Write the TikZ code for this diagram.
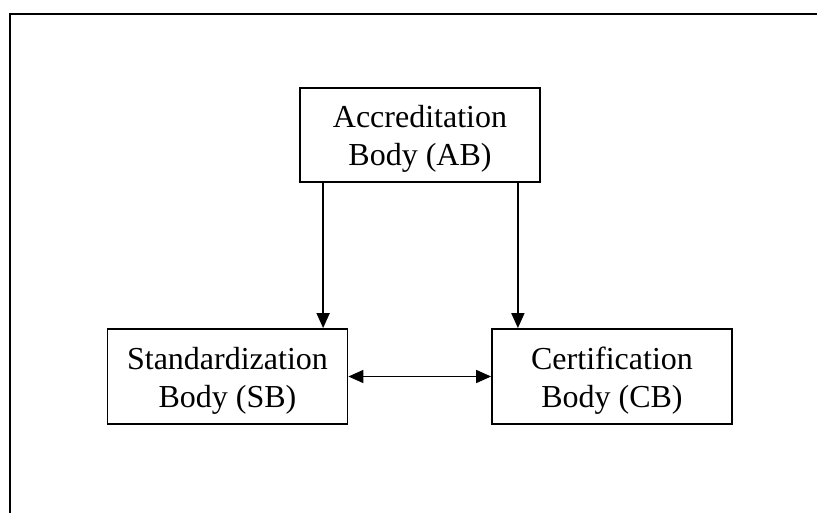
\documentclass[tikz,border=0pt]{standalone}
\usepackage{fontspec}
\setmainfont{Liberation Serif}
\usetikzlibrary{arrows.meta}

\begin{document}
\begin{tikzpicture}[x=0.5pt, y=-0.5pt,
    bodybox/.style={draw, line width=0.9pt, minimum width=120pt, minimum height=47pt,
        align=center, inner sep=0pt, font=\fontsize{16}{19}\selectfont,
        text height=35pt, text depth=4pt},
    link/.style={line width=0.8pt, -{Triangle[length=7.5pt, width=6.5pt]}},
    both/.style={line width=0.8pt, {Triangle[length=7.5pt, width=6.5pt]}-{Triangle[length=7.5pt, width=6.5pt]}}]

    \useasboundingbox (0, 0) rectangle (817, 513);

    \coordinate (f-1) at (10, 513);
    \coordinate (f-2) at (10, 14);
    \coordinate (f-3) at (817, 14);
    \draw[line width=1.1pt] (f-1) -- (f-2) -- (f-3);

    \node (ab) at (420, 135) [bodybox] {Accreditation\\Body (AB)};
    \node (sb) at (227.5, 376.5) [bodybox, minimum height=47.5pt] {Standardization\\Body (SB)};
    \node (cb) at (612, 376.5) [bodybox, minimum height=47.5pt] {Certification\\Body (CB)};

    \draw[link] ([xshift=12pt]ab.south west) -- ([xshift=12pt]ab.south west |- sb.north);
    \draw[link] ([xshift=-11.5pt]ab.south east) -- ([xshift=-11.5pt]ab.south east |- cb.north);

    \draw[both] (sb) -- (cb);

\end{tikzpicture}
\end{document}
